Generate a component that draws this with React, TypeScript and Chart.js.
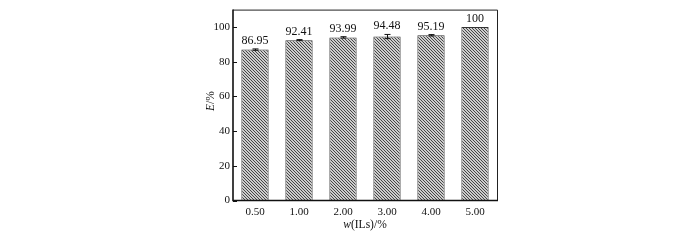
import React, { useEffect, useRef } from "react";
import { Chart, registerables } from "chart.js";

Chart.register(...registerables);

const categories = ["0.50", "1.00", "2.00", "3.00", "4.00", "5.00"];
const values = [86.95, 92.41, 93.99, 94.48, 95.19, 100];
const errors = [0.4, 0.3, 0.4, 1.2, 0.4, 0];
const valueLabels = ["86.95", "92.41", "93.99", "94.48", "95.19", "100"];
const yTicks = [0, 20, 40, 60, 80, 100];

const FONT = "'Liberation Serif', 'DejaVu Serif', serif";

function makePattern(): CanvasPattern | string {
  const tile = document.createElement("canvas");
  tile.width = 3;
  tile.height = 3;
  const c = tile.getContext("2d");
  if (!c) return "#999";
  const img = c.createImageData(3, 3);
  for (let y = 0; y < 3; y++) {
    for (let x = 0; x < 3; x++) {
      const i = (y * 3 + x) * 4;
      const dark = (x - y + 3) % 3 === 0;
      const v = dark ? 70 : 205;
      img.data[i] = v;
      img.data[i + 1] = v;
      img.data[i + 2] = v;
      img.data[i + 3] = 255;
    }
  }
  c.putImageData(img, 0, 0);
  const p = c.createPattern(tile, "repeat");
  return p || "#999";
}

function drawMixed(
  ctx: CanvasRenderingContext2D,
  parts: { t: string; it: boolean }[],
  cx: number,
  cy: number,
  size: number
) {
  let total = 0;
  const widths: number[] = [];
  for (const p of parts) {
    ctx.font = `${p.it ? "italic " : ""}${size}px ${FONT}`;
    const w = ctx.measureText(p.t).width;
    widths.push(w);
    total += w;
  }
  let x = cx - total / 2;
  ctx.textBaseline = "middle";
  ctx.textAlign = "left";
  parts.forEach((p, i) => {
    ctx.font = `${p.it ? "italic " : ""}${size}px ${FONT}`;
    ctx.fillText(p.t, x, cy);
    x += widths[i];
  });
}

const decorPlugin = {
  id: "decor",
  afterDatasetsDraw(chart: any) {
    const ctx: CanvasRenderingContext2D = chart.ctx;
    const y = chart.scales.y;
    const meta = chart.getDatasetMeta(0);
    ctx.save();
    // error bars
    ctx.strokeStyle = "#111";
    ctx.lineWidth = 1;
    meta.data.forEach((bar: any, i: number) => {
      const e = errors[i];
      if (!e) return;
      const x = Math.round(bar.x) + 0.5;
      const yt = y.getPixelForValue(values[i] + e);
      const yb = y.getPixelForValue(values[i] - e);
      ctx.beginPath();
      ctx.moveTo(x, yt);
      ctx.lineTo(x, yb);
      ctx.moveTo(x - 3, yt);
      ctx.lineTo(x + 3, yt);
      ctx.moveTo(x - 3, yb);
      ctx.lineTo(x + 3, yb);
      ctx.stroke();
    });
    // value labels
    ctx.fillStyle = "#111";
    ctx.font = `12px ${FONT}`;
    ctx.textAlign = "center";
    ctx.textBaseline = "alphabetic";
    meta.data.forEach((bar: any, i: number) => {
      const top = y.getPixelForValue(values[i] + errors[i]);
      ctx.fillText(valueLabels[i], bar.x, top - 5);
    });
    ctx.restore();
  },
  afterDraw(chart: any) {
    const ctx: CanvasRenderingContext2D = chart.ctx;
    const a = chart.chartArea;
    const y = chart.scales.y;
    ctx.save();
    // frame: top and right thin
    ctx.strokeStyle = "#222";
    ctx.lineWidth = 1;
    ctx.beginPath();
    ctx.moveTo(a.left, a.top + 0.5);
    ctx.lineTo(a.right + 0.5, a.top + 0.5);
    ctx.lineTo(a.right + 0.5, a.bottom);
    ctx.stroke();
    // left and bottom thicker
    ctx.strokeStyle = "#111";
    ctx.lineWidth = 1.6;
    ctx.beginPath();
    ctx.moveTo(a.left, a.top);
    ctx.lineTo(a.left, a.bottom);
    ctx.lineTo(a.right + 1, a.bottom);
    ctx.stroke();
    // inward ticks on y
    ctx.lineWidth = 1;
    ctx.beginPath();
    yTicks.forEach((v) => {
      const py = Math.round(y.getPixelForValue(v)) + 0.5;
      ctx.moveTo(a.left, py);
      ctx.lineTo(a.left + 4, py);
    });
    ctx.stroke();
    // axis titles
    ctx.fillStyle = "#111";
    drawMixed(
      ctx,
      [
        { t: "w", it: true },
        { t: "(ILs)/%", it: false },
      ],
      (a.left + a.right) / 2,
      225,
      11.5
    );
    ctx.translate(210.5, 101);
    ctx.rotate(-Math.PI / 2);
    drawMixed(
      ctx,
      [
        { t: "E", it: true },
        { t: "/%", it: false },
      ],
      0,
      0,
      11.5
    );
    ctx.restore();
  },
};

export default function App() {
  const ref = useRef<HTMLCanvasElement | null>(null);
  useEffect(() => {
    if (!ref.current) return;
    const chart = new Chart(ref.current, {
      type: "bar",
      data: {
        labels: categories,
        datasets: [
          {
            data: values,
            backgroundColor: makePattern() as any,
            borderColor: "#333",
            borderWidth: 1,
            barPercentage: 0.62,
            categoryPercentage: 1,
          },
        ],
      },
      options: {
        animation: false,
        responsive: false,
        maintainAspectRatio: false,
        devicePixelRatio: 1,
        layout: { padding: { left: 0, right: 203, top: 9, bottom: 0 } },
        plugins: {
          legend: { display: false },
          title: { display: false },
          tooltip: { enabled: false },
        },
        scales: {
          x: {
            grid: { display: false, drawTicks: false },
            border: { display: false },
            ticks: {
              color: "#111",
              padding: 5,
              font: { family: FONT, size: 11 },
              maxRotation: 0,
            },
            afterFit: (s: any) => {
              s.height = 39.5;
            },
          },
          y: {
            min: 0,
            max: 110,
            grid: { display: false, drawTicks: false },
            border: { display: false },
            ticks: {
              color: "#111",
              padding: 3,
              font: { family: FONT, size: 11 },
            },
            afterBuildTicks: (s: any) => {
              s.ticks = yTicks.map((v) => ({ value: v }));
            },
            afterFit: (s: any) => {
              s.width = 233;
            },
          },
        },
      },
      plugins: [decorPlugin],
    });
    return () => chart.destroy();
  }, []);
  return (
    <div style={{ position: "absolute", left: 0, top: 0, width: 700, height: 240, background: "#fff" }}>
      <canvas ref={ref} width={700} height={240} style={{ width: 700, height: 240 }} />
    </div>
  );
}
